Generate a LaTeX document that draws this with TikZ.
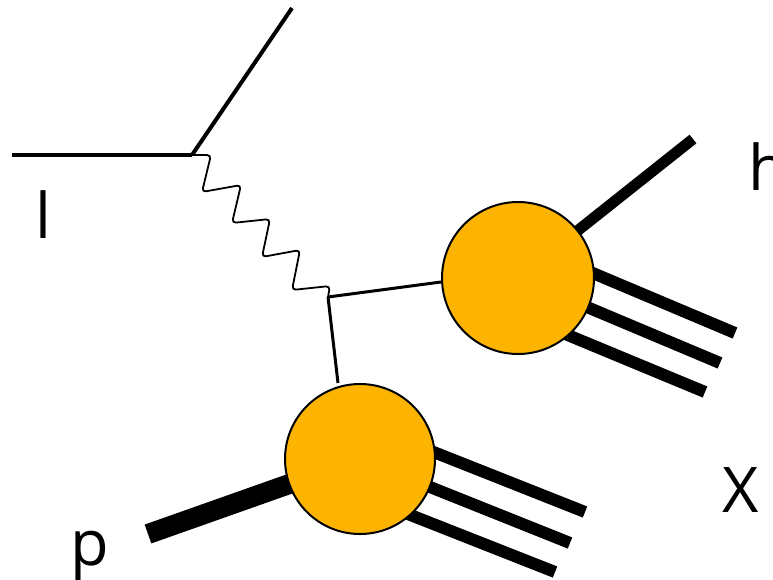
\documentclass[tikz,border=0pt]{standalone}
\usepackage{fontspec}
\setmainfont{Open Sans}
\definecolor{blobfill}{RGB}{253,180,0}
\begin{document}
\begin{tikzpicture}[x=1pt,y=-1pt,
  lepton/.style={line width=4pt},
  photon/.style={line width=1.8pt, rounded corners=4pt},
  quark/.style={line width=3pt},
  hadron/.style={line width=11pt},
  jet/.style={line width=12pt},
  proton/.style={line width=20pt},
  blob/.style={circle, draw=black, line width=2pt, fill=blobfill, inner sep=0pt},
  lab/.style={anchor=base west, inner sep=0pt, font=\fontsize{63}{63}\selectfont}]
\useasboundingbox (0,0) rectangle (773,579);
% vertices and end points
\coordinate (lin) at (12,155);
\coordinate (v1) at (192,155);
\coordinate (lout) at (292,8);
\coordinate (v2) at (328,297);
\coordinate (hend) at (693,139);
\coordinate (ua) at (531,247); \coordinate (uae) at (735,333);
\coordinate (ub) at (518,278); \coordinate (ube) at (720,363);
\coordinate (uc) at (505,309); \coordinate (uce) at (705,392);
\coordinate (la) at (373,428); \coordinate (lae) at (585,512);
\coordinate (lb) at (360,459); \coordinate (lbe) at (570,543);
\coordinate (lc) at (347,490); \coordinate (lce) at (555,572);
\coordinate (pin) at (148,534);
% lepton lines
\draw[lepton] (lin) -- (v1);
\draw[lepton] (v1) -- (lout);
% photon
\draw[photon] (v1) -- (211,155) -- (202,192) -- (241,185) -- (232,223) -- (270,219)
  -- (262,257) -- (300,250) -- (292,290) -- (330,286) -- (v2);
% hadron lines behind blobs
\draw[hadron] (ub) -- (hend);
\draw[jet] (ua) -- (uae);
\draw[jet] (ub) -- (ube);
\draw[jet] (uc) -- (uce);
\draw[jet] (la) -- (lae);
\draw[jet] (lb) -- (lbe);
\draw[jet] (lc) -- (lce);
\draw[proton] (pin) -- (lb);
% blobs
\node[blob, minimum size=152pt] (U) at (518,278) {};
\node[blob, minimum size=150pt] (L) at (360,459) {};
% quark lines
\draw[quark] (v2) -- (U.west |- 0,282) ;
\draw[quark] (v2) -- (L.north -| 338,0);
% labels
\node[lab] (tl) at (35,238) {l};
\node[lab] (th) at (748,190) {h};
\node[lab] (tX) at (722,512) {X};
\node[lab] (tp) at (70,565) {p};
\end{tikzpicture}
\end{document}
